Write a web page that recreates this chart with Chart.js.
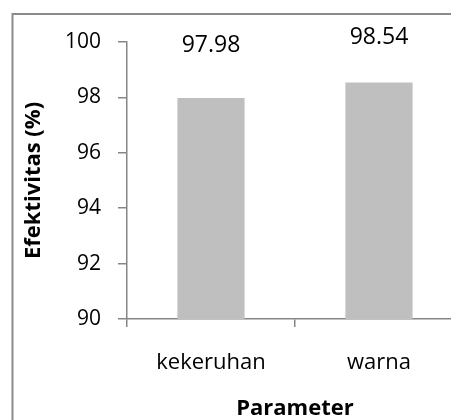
<!DOCTYPE html>
<html>
<head>
<meta charset="utf-8">
<script src="https://cdn.jsdelivr.net/npm/chart.js@4.4.1/dist/chart.umd.min.js"></script>
<style>
  html, body { margin: 0; padding: 0; background: #ffffff; overflow: hidden; width: 451px; height: 420px; }
  canvas { display: block; }
</style>
</head>
<body>
<canvas id="c" width="480" height="420" style="width:480px;height:420px"></canvas>
<script>
const categories = ['kekeruhan', 'warna'];
const efektivitas = [97.98, 98.54];
const dataLabels = ['97.98', '98.54'];
const yTicks = [90, 92, 94, 96, 98, 100];

const FONT = '"Open Sans", "DejaVu Sans", sans-serif';
const AXIS_COLOR = '#868686';
const TEXT_COLOR = '#000000';

const frame = {
  id: 'frame',
  beforeDraw(chart) {
    const ctx = chart.ctx;
    ctx.save();
    ctx.fillStyle = '#ffffff';
    ctx.fillRect(0, 0, chart.width, chart.height);
    ctx.strokeStyle = '#8a8a8a';
    ctx.lineWidth = 2;
    ctx.strokeRect(12.5, 14, 600, 600);
    ctx.restore();
  }
};

const valueLabels = {
  id: 'valueLabels',
  afterDatasetsDraw(chart, args, opts) {
    const ctx = chart.ctx;
    const meta = chart.getDatasetMeta(0);
    ctx.save();
    ctx.font = '23px ' + FONT;
    ctx.fillStyle = TEXT_COLOR;
    ctx.textAlign = 'center';
    ctx.textBaseline = 'middle';
    meta.data.forEach((bar, i) => {
      ctx.fillText(dataLabels[i], bar.x, bar.y - opts.offsets[i]);
    });
    ctx.restore();
  }
};

new Chart(document.getElementById('c'), {
  type: 'bar',
  data: {
    labels: categories,
    datasets: [{
      data: efektivitas,
      backgroundColor: '#bfbfbf',
      borderWidth: 0,
      barPercentage: 0.4,
      categoryPercentage: 1.0
    }]
  },
  options: {
    responsive: false,
    animation: false,
    devicePixelRatio: 1,
    layout: { padding: { left: 12, top: 42, right: 17, bottom: 0 } },
    plugins: {
      legend: { display: false },
      tooltip: { enabled: false },
      valueLabels: { offsets: [53, 45] }
    },
    scales: {
      x: {
        offset: true,
        grid: {
          offset: true,
          drawOnChartArea: false,
          drawTicks: true,
          tickLength: 8,
          color: AXIS_COLOR,
          lineWidth: 1.5
        },
        border: { display: true, color: AXIS_COLOR, width: 1.5 },
        ticks: {
          color: TEXT_COLOR,
          font: { family: FONT, size: 22 },
          padding: 23
        },
        title: {
          display: true,
          text: 'Parameter',
          color: TEXT_COLOR,
          font: { family: FONT, size: 22, weight: 'bold', lineHeight: 1.0 },
          padding: { top: 0, bottom: 0 }
        },
        afterFit(scale) { scale.height = 101; }
      },
      y: {
        min: 90,
        max: 100,
        afterBuildTicks(scale) { scale.ticks = yTicks.map(v => ({ value: v })); },
        grid: {
          drawOnChartArea: false,
          drawTicks: true,
          tickLength: 9,
          color: AXIS_COLOR,
          lineWidth: 1.5
        },
        border: { display: true, color: AXIS_COLOR, width: 1.5 },
        ticks: {
          color: TEXT_COLOR,
          font: { family: FONT, size: 21 },
          padding: 17
        },
        title: {
          display: true,
          text: 'Efektivitas (%)',
          color: TEXT_COLOR,
          font: { family: FONT, size: 22, weight: 'bold', lineHeight: 1.2 },
          padding: { top: 9, bottom: 0 }
        },
        afterFit(scale) { scale.width = 115; }
      }
    }
  },
  plugins: [frame, valueLabels]
});
</script>
</body>
</html>
